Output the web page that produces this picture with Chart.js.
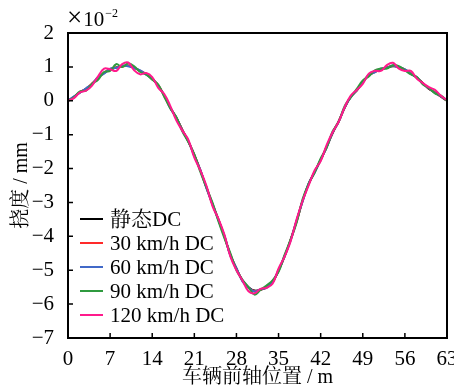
<!DOCTYPE html>
<html><head><meta charset="utf-8">
<script src="https://cdn.jsdelivr.net/npm/chart.js@4/dist/chart.umd.min.js"></script>
<style>html,body{margin:0;padding:0;background:#fff}</style>
</head><body>
<canvas id="c" width="454" height="388"></canvas>
<script>
const positions = [0,1,2,3,4,5,6,7,8,9,10,11,12,13,14,15,16,17,18,19,20,21,22,23,24,25,26,27,28,29,30,31,32,33,34,35,36,37,38,39,40,41,42,43,44,45,46,47,48,49,50,51,52,53,54,55,56,57,58,59,60,61,62,63];
const xTicks = [0,7,14,21,28,35,42,49,56,63];
const yTicks = [2,1,0,-1,-2,-3,-4,-5,-6,-7];
const seriesNames = ['静态DC','30 km/h DC','60 km/h DC','90 km/h DC','120 km/h DC'];
const staticDC = [0,0.12,0.25,0.35,0.5,0.68,0.82,0.92,0.98,1.02,1.03,0.98,0.88,0.78,0.65,0.45,0.15,-0.2,-0.5,-0.85,-1.2,-1.6,-2.05,-2.55,-3.05,-3.5,-4.0,-4.55,-4.95,-5.3,-5.5,-5.6,-5.58,-5.5,-5.35,-5.0,-4.6,-4.1,-3.55,-2.95,-2.45,-2.1,-1.75,-1.35,-0.95,-0.6,-0.2,0.12,0.3,0.55,0.75,0.85,0.93,0.98,1.02,1.0,0.92,0.8,0.68,0.52,0.35,0.25,0.12,0.0];
const dc30 = [0,0.11,0.26,0.35,0.51,0.67,0.83,0.93,0.98,1.01,1.04,0.97,0.88,0.79,0.64,0.46,0.14,-0.21,-0.5,-0.86,-1.2,-1.61,-2.05,-2.56,-3.04,-3.5,-4.01,-4.56,-4.96,-5.31,-5.52,-5.61,-5.57,-5.5,-5.36,-5.0,-4.59,-4.1,-3.56,-2.95,-2.46,-2.09,-1.75,-1.36,-0.94,-0.6,-0.21,0.12,0.31,0.55,0.76,0.85,0.94,0.98,1.03,0.99,0.92,0.81,0.67,0.52,0.36,0.24,0.12,0.01];
const dc60 = [0,0.13,0.24,0.37,0.49,0.7,0.8,0.95,0.97,1.04,1.02,0.96,0.9,0.77,0.66,0.43,0.16,-0.22,-0.49,-0.88,-1.19,-1.63,-2.04,-2.58,-3.03,-3.52,-3.98,-4.58,-4.94,-5.33,-5.51,-5.63,-5.56,-5.52,-5.33,-5.02,-4.58,-4.12,-3.53,-2.97,-2.44,-2.12,-1.73,-1.38,-0.93,-0.62,-0.19,0.1,0.32,0.54,0.77,0.84,0.95,0.97,1.04,0.98,0.93,0.79,0.69,0.5,0.37,0.23,0.13,0.01];
const dc90 = [0,0.1,0.28,0.3,0.5,0.62,0.85,0.88,1.08,1.0,1.1,1.02,0.85,0.78,0.62,0.48,0.12,-0.22,-0.48,-0.9,-1.22,-1.58,-2.1,-2.55,-3.0,-3.55,-4.05,-4.5,-5.0,-5.28,-5.5,-5.72,-5.58,-5.45,-5.3,-5.05,-4.55,-4.1,-3.6,-2.9,-2.45,-2.12,-1.7,-1.38,-0.9,-0.62,-0.15,0.1,0.35,0.6,0.72,0.9,0.95,0.95,1.05,1.02,0.9,0.78,0.7,0.48,0.38,0.22,0.15,0.0];
const dc120 = [0,0.08,0.25,0.3,0.45,0.72,0.95,0.93,0.88,1.08,1.13,0.9,0.78,0.82,0.7,0.38,0.2,-0.15,-0.58,-0.88,-1.15,-1.68,-2.05,-2.5,-3.1,-3.48,-3.95,-4.6,-5.0,-5.3,-5.62,-5.68,-5.55,-5.52,-5.4,-4.95,-4.6,-4.15,-3.5,-2.95,-2.5,-2.05,-1.78,-1.3,-0.92,-0.62,-0.18,0.15,0.32,0.5,0.8,0.88,0.88,1.05,1.12,0.95,0.88,0.88,0.65,0.52,0.4,0.32,0.15,0.02];
const colors = ['#000000','#ff2a2a','#4169c8','#2f9a3f','#ff1a8c'];
const allSeries = [staticDC, dc30, dc60, dc90, dc120];

const serif = "'Liberation Serif', 'Noto Serif CJK SC', 'Noto Sans CJK SC', serif";
const mk = (arr) => positions.map((x,i)=>({x:x,y:arr[i]}));
const datasets = allSeries.map((arr,i)=>({
  label: seriesNames[i], data: mk(arr), borderColor: colors[i], backgroundColor: colors[i],
  borderWidth: 2, pointRadius: 0, tension: 0.4, fill: false, order: 4 - i
}));

const fmt = v => v < 0 ? '\u2212' + Math.abs(v) : String(v);

const decor = {
  id: 'decor',
  afterDraw(chart) {
    const {ctx, chartArea: a, scales} = chart;
    ctx.save();
    ctx.strokeStyle = '#000';
    ctx.lineWidth = 2;
    ctx.strokeRect(a.left, a.top, a.right - a.left, a.bottom - a.top);
    ctx.lineWidth = 1.5;
    ctx.beginPath();
    xTicks.forEach(v => { const px = scales.x.getPixelForValue(v); ctx.moveTo(px, a.bottom); ctx.lineTo(px, a.bottom - 5); });
    yTicks.forEach(v => { const py = scales.y.getPixelForValue(v); ctx.moveTo(a.left, py); ctx.lineTo(a.left + 5, py); });
    ctx.stroke();
    ctx.fillStyle = '#000';
    ctx.textBaseline = 'alphabetic';
    ctx.textAlign = 'left';
    ctx.font = '27px ' + serif;
    ctx.fillText('\u00d7', a.left - 1, 26);
    let w = ctx.measureText('\u00d7').width;
    ctx.font = '21px ' + serif;
    ctx.fillText('10', a.left + w, 26);
    w += ctx.measureText('10').width;
    ctx.font = '12px ' + serif;
    ctx.fillText('\u22122', a.left + w + 1, 17);
    ctx.textBaseline = 'middle';
    ctx.font = '21px ' + serif;
    const ys = [219, 243, 267, 291, 315];
    seriesNames.forEach((n, i) => {
      ctx.strokeStyle = colors[i]; ctx.lineWidth = 2;
      ctx.beginPath(); ctx.moveTo(a.left + 12, ys[i]); ctx.lineTo(a.left + 35, ys[i]); ctx.stroke();
      ctx.fillStyle = '#000';
      ctx.fillText(n, a.left + 42, ys[i] + 1);
    });
    ctx.restore();
  }
};

new Chart(document.getElementById('c'), {
  type: 'line',
  data: { datasets },
  options: {
    responsive: false, animation: false, devicePixelRatio: 1,
    layout: { padding: { left: 0, right: 7, top: 33, bottom: 0 } },
    plugins: { legend: { display: false }, tooltip: { enabled: false } },
    scales: {
      x: {
        type: 'linear', min: 0, max: 63,
        afterBuildTicks: s => { s.ticks = xTicks.map(v => ({value: v})); },
        afterFit: s => { s.height = 50; s.paddingLeft = 0; s.paddingRight = 0; },
        grid: { display: false },
        border: { display: false },
        ticks: { color: '#000', font: { family: serif, size: 21, lineHeight: 1 }, padding: 3, maxRotation: 0, autoSkip: false },
        title: { display: true, text: '车辆前轴位置 / m', color: '#000', font: { family: serif, size: 20, lineHeight: 1 }, padding: { top: 0, bottom: 0 } }
      },
      y: {
        type: 'linear', min: -7, max: 2,
        afterBuildTicks: s => { s.ticks = yTicks.map(v => ({value: v})); },
        afterFit: s => { s.width = 68; s.paddingTop = 0; s.paddingBottom = 0; },
        grid: { display: false },
        border: { display: false },
        ticks: { color: '#000', font: { family: serif, size: 21, lineHeight: 1 }, padding: 6, autoSkip: false, callback: v => fmt(v) },
        title: { display: true, text: '挠度 / mm', color: '#000', font: { family: serif, size: 20, lineHeight: 1 }, padding: { top: 12, bottom: 0 } }
      }
    }
  },
  plugins: [decor]
});
</script>
</body></html>
